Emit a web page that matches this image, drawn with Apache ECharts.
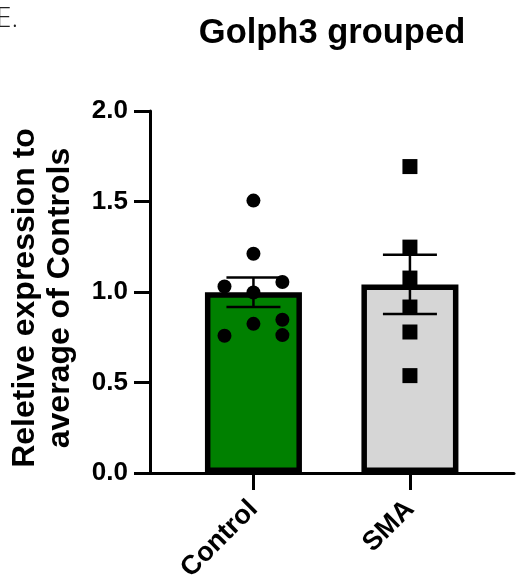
<!DOCTYPE html>
<html>
<head>
<meta charset="utf-8">
<script src="https://cdn.jsdelivr.net/npm/echarts@6/dist/echarts.min.js"></script>
<style>
  html, body { margin: 0; padding: 0; background: #ffffff; }
  #chart { width: 516px; height: 583px; }
</style>
</head>
<body>
<div id="chart"></div>
<script>
// Groups and per-animal relative expression values
const categories = ['Control', 'SMA'];
const controlValues = [1.505, 1.211, 1.030, 1.055, 0.997, 0.824, 0.847, 0.758, 0.762];
const controlOffsets = [0, 0, -0.185, 0.185, 0, 0, 0.185, -0.185, 0.185];
const smaValues = [1.693, 1.248, 1.077, 0.917, 0.779, 0.538];
const smaOffsets = [0, 0, 0, 0, 0, 0];
const yTicks = [0, 0.5, 1.0, 1.5, 2.0];

function mean(a) { return a.reduce((s, v) => s + v, 0) / a.length; }
function sem(a) {
  const m = mean(a);
  const v = a.reduce((s, x) => s + (x - m) * (x - m), 0) / (a.length - 1);
  return Math.sqrt(v) / Math.sqrt(a.length);
}

const groups = [controlValues, smaValues];
const means = groups.map(mean);
const sems = groups.map(sem);
const barColors = ['#008000', '#d6d6d6'];

const chart = echarts.init(document.getElementById('chart'), null, { renderer: 'canvas' });

const option = {
  animation: false,
  backgroundColor: '#ffffff',
  grid: { left: 150, right: 2, top: 111, bottom: 110, containLabel: false, outerBoundsMode: 'none' },
  graphic: [
    {
      type: 'text', left: -4, top: 5,
      style: { text: 'E.', font: '300 28px "Open Sans"', fill: '#222222' }
    },
    {
      type: 'text', x: 332, y: 33,
      style: {
        text: 'Golph3 grouped', font: 'bold 34.5px "Liberation Sans", Arial',
        fill: '#000000', align: 'center', verticalAlign: 'middle'
      }
    }
  ],
  xAxis: {
    type: 'value',
    min: -0.661, max: 1.665,
    splitLine: { show: false },
    axisLine: { show: true, onZero: false, lineStyle: { color: '#000', width: 3 } },
    axisTick: { show: true, customValues: [0, 1], length: 17, lineStyle: { color: '#000', width: 3 } },
    axisLabel: {
      show: true, customValues: [0, 1], rotate: 45, margin: 32,
      formatter: v => categories[Math.round(v)],
      fontFamily: '"Liberation Sans", Arial', fontWeight: 'bold', fontSize: 27, color: '#000'
    }
  },
  yAxis: {
    type: 'value', min: 0, max: 2, interval: 0.5,
    splitLine: { show: false },
    axisLine: { show: true, onZero: false, lineStyle: { color: '#000', width: 3 } },
    axisTick: { show: true, length: 16, lineStyle: { color: '#000', width: 3 } },
    axisLabel: {
      margin: 22,
      formatter: v => v.toFixed(1),
      fontFamily: '"Liberation Sans", Arial', fontWeight: 'bold', fontSize: 26, color: '#000'
    },
    name: 'Reletive expression to\naverage of Controls',
    nameLocation: 'middle', nameRotate: 90, nameGap: 72,
    nameTextStyle: {
      fontFamily: '"Liberation Sans", Arial', fontWeight: 'bold', fontSize: 32,
      lineHeight: 35, color: '#000', align: 'center', padding: [0, 12, 0, 0]
    }
  },
  series: [
    {
      type: 'bar',
      barWidth: 97,
      data: means.map((m, i) => ({
        value: [i, m],
        itemStyle: { color: barColors[i], borderColor: '#000', borderWidth: 5.5 }
      })),
      z: 2
    },
    {
      type: 'custom',
      z: 3,
      data: means.map((m, i) => [i, m - sems[i], m + sems[i]]),
      renderItem: function (params, api) {
        const x = api.value(0);
        const lo = api.coord([x, api.value(1)]);
        const hi = api.coord([x, api.value(2)]);
        const half = 27;
        const st = { stroke: '#000', lineWidth: 2.5 };
        return {
          type: 'group',
          children: [
            { type: 'line', shape: { x1: lo[0], y1: lo[1], x2: hi[0], y2: hi[1] }, style: st },
            { type: 'line', shape: { x1: hi[0] - half, y1: hi[1], x2: hi[0] + half, y2: hi[1] }, style: st },
            { type: 'line', shape: { x1: lo[0] - half, y1: lo[1], x2: lo[0] + half, y2: lo[1] }, style: st }
          ]
        };
      }
    },
    {
      type: 'scatter', z: 4,
      symbol: 'circle', symbolSize: 14,
      itemStyle: { color: '#000', opacity: 1 },
      data: controlValues.map((v, i) => [0 + controlOffsets[i], v])
    },
    {
      type: 'scatter', z: 4,
      symbol: 'rect', symbolSize: 15,
      itemStyle: { color: '#000', opacity: 1 },
      data: smaValues.map((v, i) => [1 + smaOffsets[i], v])
    }
  ]
};

chart.setOption(option);
</script>
</body>
</html>
